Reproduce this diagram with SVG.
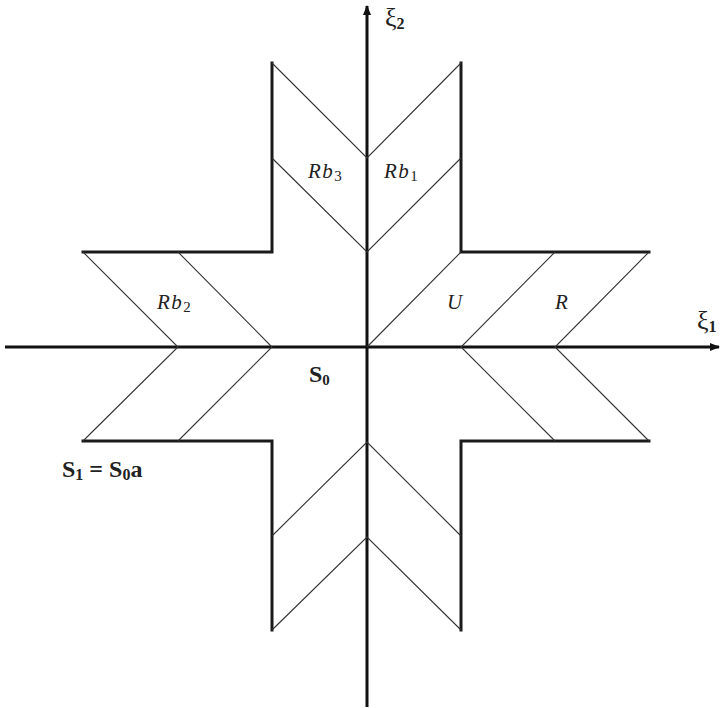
<svg xmlns="http://www.w3.org/2000/svg" width="721" height="708" viewBox="0 0 721 708">
<style>
.thick{fill:none;stroke:#1a1a1a;stroke-width:3;stroke-linecap:square}
.thin{fill:none;stroke:#333;stroke-width:1.1}
.axis{fill:none;stroke:#111;stroke-width:3}
.it{font-family:"Liberation Serif",serif;font-style:italic;font-size:21px;fill:#222;letter-spacing:1.5px}
.bd{font-family:"Liberation Serif",serif;font-weight:bold;font-size:24px;fill:#222}
.gk{font-family:"Liberation Serif",serif;font-size:26px;fill:#222}
</style>
<defs>
<marker id="ah" markerWidth="10" markerHeight="8" refX="9" refY="4" orient="auto" markerUnits="userSpaceOnUse">
<path d="M0,0 L10,4 L0,8 Z" fill="#111"/>
</marker>
</defs>
<rect width="721" height="708" fill="#fff"/>
<g id="connectors">
<line class="axis" x1="5" y1="347" x2="719" y2="347" marker-end="url(#ah)"/>
<line class="axis" x1="367" y1="707" x2="367" y2="6" marker-end="url(#ah)"/>
</g>
<g id="outline">
<path class="thick" d="M272,63 V252 H83 M461,63 V252 H649 M83,441 H272 V630 M649,441 H461 V630"/>
</g>
<g id="chevrons">
<path class="thin" d="M272,63 L367,158 L461,63 M272,158 L367,252 L461,158"/>
<path class="thin" d="M83,252 L178,347 L83,441 M178,252 L272,347 L178,441"/>
<path class="thin" d="M461,252 L367,347 M555,252 L461,347 L555,441 M649,252 L555,347 L649,441"/>
<path class="thin" d="M272,536 L367,442 L461,536 M272,630 L367,537 L461,630"/>
</g>
<g id="labels">
<text class="it" x="308" y="178">Rb<tspan font-style="normal" font-size="15" dy="3">3</tspan></text>
<text class="it" x="384" y="178">Rb<tspan font-style="normal" font-size="15" dy="3">1</tspan></text>
<text class="it" x="157" y="309">Rb<tspan font-style="normal" font-size="15" dy="3">2</tspan></text>
<text class="it" x="447" y="309">U</text>
<text class="it" x="555" y="309">R</text>
<text class="bd" x="309" y="382" font-size="21">S<tspan font-size="15" dy="3">0</tspan></text>
<text class="bd" x="62" y="477">S<tspan font-size="16" dy="3">1</tspan><tspan dy="-3"> = S</tspan><tspan font-size="16" dy="3">0</tspan><tspan dy="-3">a</tspan></text>
<text class="gk" x="385" y="26">ξ<tspan font-weight="bold" font-size="16" dy="3">2</tspan></text>
<text class="gk" x="697" y="329">ξ<tspan font-weight="bold" font-size="16" dy="3">1</tspan></text>
</g>
</svg>
